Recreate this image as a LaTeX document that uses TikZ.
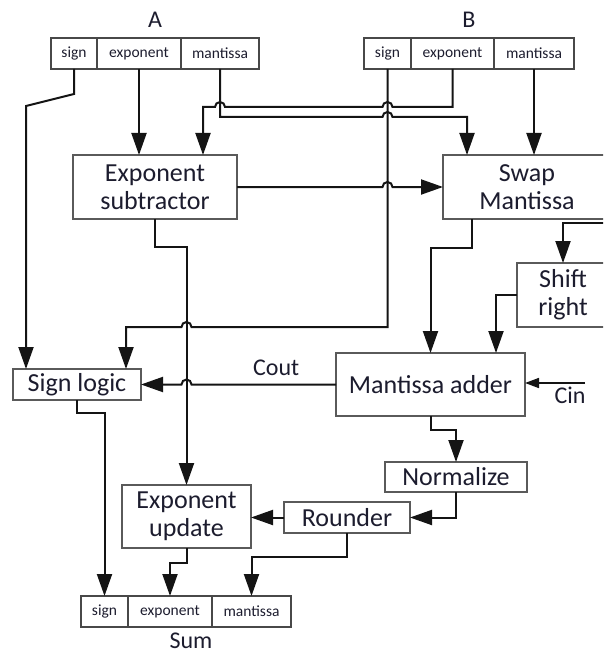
\documentclass[tikz,border=0pt]{standalone}
\usepackage{fontspec}
\setmainfont{Carlito}
\usepackage{tikz}
\usetikzlibrary{arrows.meta,positioning,calc}
\usepackage{xcolor}
\definecolor{Ink}{HTML}{1C1C2E}
\definecolor{Frame}{HTML}{5A5A5A}
\definecolor{Wire}{HTML}{141414}
\tikzset{
  unit/.style={draw=Frame, line width=1.3pt, fill=white, align=center, inner sep=0pt, outer sep=0pt, text=Ink, font=\fontsize{26}{28}\selectfont},
  field/.style={draw=Frame!80!black, line width=1.2pt, minimum height=31pt, inner sep=0pt, outer sep=0pt, text=Ink, font=\fontsize{15.5}{17}\selectfont},
  busname/.style={text=Ink, inner sep=0pt, font=\fontsize{24}{26}\selectfont},
  wire/.style={line width=2pt, draw=Wire},
  arrow/.style={wire, -{Triangle[length=22pt, width=15pt]}},
  tinyarrow/.style={wire, line width=1.6pt, -{Triangle[length=14pt, width=10pt]}}
}
\begin{document}
\begin{tikzpicture}[x=1pt, y=-1pt]
\useasboundingbox (0,0) rectangle (603,655);
\clip (0,0) rectangle (603,655);
% operand registers
\node[busname] (A) at (155,20) {A};
\node[field, minimum width=46pt, anchor=north west] (Asign) at (51,38) {sign};
\node[field, minimum width=84pt, right=0pt of Asign] (Aexp) {exponent};
\node[field, minimum width=78pt, right=0pt of Aexp] (Aman) {mantissa};
\node[busname] (B) at (469,20) {B};
\node[field, minimum width=47pt, anchor=north west] (Bsign) at (364,38) {sign};
\node[field, minimum width=83pt, right=0pt of Bsign] (Bexp) {exponent};
\node[field, minimum width=80pt, right=0pt of Bexp] (Bman) {mantissa};
% datapath blocks
\node[unit, minimum width=164pt, minimum height=64pt] (esub) at (155,187) {Exponent\\subtractor};
\node[unit, minimum width=168pt, minimum height=64pt] (swap) at (527,187) {Swap\\Mantissa};
\node[unit, minimum width=92pt, minimum height=64pt] (shift) at (563,295) {Shift\\right};
\node[unit, minimum width=189pt, minimum height=63pt] (adder) at (430.5,384.5) {Mantissa adder};
\node[unit, minimum width=128pt, minimum height=31pt] (signl) at (77,384.5) {Sign logic};
\node[unit, minimum width=142pt, minimum height=30pt] (norm) at (456,477) {Normalize};
\node[unit, minimum width=126pt, minimum height=31pt] (round) at (347,517.5) {Rounder};
\node[unit, minimum width=129pt, minimum height=63pt] (eupd) at (186.5,516.5) {Exponent\\update};
% result register
\node[field, minimum width=47pt, anchor=north west] (Ssign) at (81,596) {sign};
\node[field, minimum width=84pt, right=0pt of Ssign] (Sexp) {exponent};
\node[field, minimum width=79pt, right=0pt of Sexp] (Sman) {mantissa};
\node[busname] (sum) at (191,641) {Sum};
% helper points
\coordinate (e2) at ($(esub.north east)+(-34,0)$);
\coordinate (m2) at ($(swap.north west)+(24,0)$);
\coordinate (s2) at ($(signl.north east)+(-15,0)$);
\coordinate (swapR) at (612,223);
\coordinate (cin) at (585,383);
% wires from the registers
\draw[arrow] (Asign.south) -- ++(0,25) -- ++(-48,12) -- ($(signl.north west)+(13,0)$);
\draw[arrow] (Aexp.south) -- (Aexp.south |- esub.north);
\draw[arrow] (Aman.south) -- ++(0,48) coordinate (m1)
  -- ($(m1 -| Bsign.south)+(-5,0)$) arc[start angle=180, end angle=0, radius=5pt]
  -- (m1 -| m2) -- (m2);
\draw[arrow] (Bexp.south) -- ++(0,38) coordinate (b1)
  -- ($(b1 -| Bsign.south)+(5,0)$) arc[start angle=0, end angle=180, radius=5pt]
  -- ($(b1 -| Aman.south)+(5,0)$) arc[start angle=0, end angle=180, radius=5pt]
  -- (b1 -| e2) -- (e2);
\draw[arrow] (Bman.south) -- (Bman.south |- swap.north);
\draw[arrow] (Bsign.south) -- ++(0,258) coordinate (s1)
  -- ($(s1 -| eupd.north)+(5,0)$) arc[start angle=0, end angle=180, radius=5pt]
  -- (s1 -| s2) -- (s2);
% exponent path
\draw[arrow] (esub.east) -- ($(esub.east -| Bsign.south)+(-5,0)$) arc[start angle=180, end angle=0, radius=5pt] -- (swap.west);
\draw[arrow] (esub.south) -- ++(0,28) -| (eupd.north);
% mantissa path
\draw[arrow] ($(swap.south west)+(29,0)$) -- ++(0,29) -| (adder.north);
\draw[arrow] (swapR) -| (shift.north);
\draw[arrow] (shift.west) -| ($(adder.north east)+(-29,0)$);
\draw[tinyarrow] (cin) -- (cin -| adder.east);
\node[busname] (cinl) at (570,395) {Cin};
\draw[arrow] (adder.west) -- ($(adder.west -| eupd.north)+(5,0)$) arc[start angle=0, end angle=180, radius=5pt] -- (signl.east);
\node[busname, anchor=west] (coutl) at (253,368) {Cout};
\draw[arrow] (adder.south) -- ++(0,14) -| (norm.north);
\draw[arrow] (norm.south) |- (round.east);
\draw[arrow] (round.west) -- (round.west -| eupd.east);
% into the sum
\draw[arrow] (round.south) -- ++(0,24) -| (Sman.north);
\draw[arrow] (eupd.south) -- ++(0,15) -| (Sexp.north);
\draw[arrow] (signl.south) -- ++(0,13) -| (Ssign.north);
\end{tikzpicture}
\end{document}
